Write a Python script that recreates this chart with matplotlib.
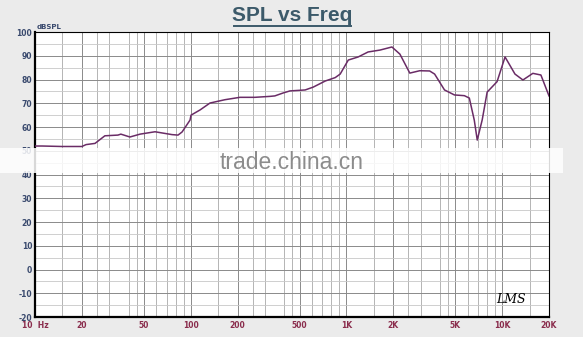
import numpy as np
import matplotlib
matplotlib.use("Agg")
from matplotlib import pyplot as plt
from matplotlib.ticker import FixedLocator, NullFormatter
from matplotlib.patches import Rectangle

plt.rcParams['axes.unicode_minus'] = False

# response
freq = [10, 11.1, 14.9, 20, 21.3, 24.3, 28.1, 34.1, 35.6, 40.7, 47.3, 59.0, 75.9, 82.9, 88.0,
        99, 100.5, 114.9, 133, 166, 207, 258, 323, 347, 391, 434, 543, 612, 733, 847, 912,
        1028, 1190, 1378, 1643, 1960, 2205, 2553, 2957, 3424, 3684, 4266, 4940, 5720, 6155,
        6623, 6922, 7447, 8013, 9278, 10440, 12090, 13600, 15750, 17740, 20000]
spl = [52.0, 52.0, 51.8, 51.8, 52.6, 53.1, 56.3, 56.6, 57.0, 55.8, 57.0, 58.0, 56.8, 56.6, 57.9,
       62.9, 65.0, 67.2, 70.1, 71.5, 72.5, 72.5, 72.9, 73.1, 74.3, 75.2, 75.6, 76.8, 79.4, 80.8, 82.3,
       88.2, 89.5, 91.6, 92.4, 93.7, 90.7, 82.7, 83.7, 83.6, 82.3, 75.6, 73.5, 73.2, 72.2,
       62.9, 54.5, 63.0, 74.7, 79.1, 89.5, 82.3, 79.8, 82.6, 81.9, 73.1]

x_ticks = [10, 20, 50, 100, 200, 500, 1000, 2000, 5000, 10000, 20000]
x_labels = ["10  Hz", "20", "50", "100", "200", "500", "1K", "2K", "5K", "10K", "20K"]
y_ticks = list(range(-20, 101, 10))

fig = plt.figure(figsize=(5.83, 3.37), dpi=100, facecolor="#ebebeb")
ax = fig.add_axes([0.060, 0.0593, 0.8817, 0.8457])
ax.set_facecolor("white")

ax.semilogx(freq, spl, color="#6a2c66", lw=1.1, zorder=3)
ax.set_xlim(10, 20000)
ax.set_ylim(-20, 100)

# grid
minor_x = [m * d for d in [10, 100, 1000, 10000] for m in [1.5, 2, 2.5, 3, 4, 4.5, 5, 6, 7, 8, 9]
           if m * d < 20000]
ax.xaxis.set_major_locator(FixedLocator(x_ticks))
ax.xaxis.set_minor_locator(FixedLocator(minor_x))
ax.xaxis.set_minor_formatter(NullFormatter())
ax.set_xticklabels(x_labels)
ax.set_yticks(y_ticks)
ax.set_yticks(range(-15, 100, 10), minor=True)
ax.grid(which="major", axis="both", color="#8a8a8a", lw=0.7, zorder=1)
ax.grid(which="minor", axis="x", color="#a8a8a8", lw=0.6, zorder=1)
ax.grid(which="minor", axis="y", color="#c8c8c8", lw=0.6, zorder=1)
ax.tick_params(which="both", length=0)
ax.tick_params(axis="x", labelsize=5.5, colors="#8a2c4c", pad=3)
ax.tick_params(axis="y", labelsize=5.5, colors="#3a4a6e", pad=2)
for lab in ax.get_xticklabels() + ax.get_yticklabels():
    lab.set_fontweight("bold")

for s in ["top", "right"]:
    ax.spines[s].set_linewidth(0.8)
for s in ["left", "bottom"]:
    ax.spines[s].set_linewidth(1.6)

fig.text(0.501, 0.955, "SPL vs Freq", ha="center", va="center", fontsize=15,
         fontweight="bold", color="#3c5a6a", family="Liberation Sans")
fig.add_artist(plt.Line2D([0.402, 0.602], [0.922, 0.922], color="#3c5a6a", lw=1.4))
fig.text(0.063, 0.915, "dBSPL", fontsize=5, color="#3a4a6e", fontweight="bold")

# watermark band across the figure
fig.add_artist(Rectangle((0.0, 0.487), 0.965, 0.074, transform=fig.transFigure,
                         facecolor="white", alpha=0.85, lw=0, zorder=4))
fig.text(0.50, 0.519, "trade.china.cn", fontsize=16.5, color="#8c8c8c", ha="center",
         va="center", family="Liberation Sans", zorder=5)

ax.text(0.955, 0.04, "LMS", transform=ax.transAxes, fontsize=9, fontstyle="italic",
        ha="right", va="bottom", color="black", family="DejaVu Serif", zorder=5)

fig.savefig("out.png", dpi=100, facecolor=fig.get_facecolor())
